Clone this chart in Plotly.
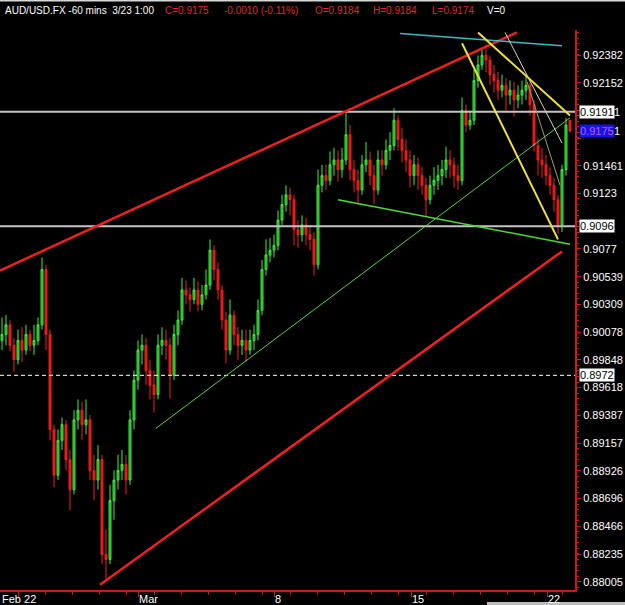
import plotly.graph_objects as go

# ---------------- data (hourly-ish candles, AUD/USD) ----------------
opens = [0.9001,0.9006,0.9014,0.8997,0.8985,0.9001,0.8993,0.9006,0.8997,0.9001,
0.9014,0.9060,0.9006,0.8927,0.8889,0.8918,0.8931,0.8902,0.8877,0.8935,
0.8943,0.8931,0.8935,0.8893,0.8885,0.8902,0.8823,0.8819,0.8868,0.8885,
0.8893,0.8898,0.8885,0.8935,0.8968,0.8993,0.8997,0.8976,0.8964,0.8956,
0.8997,0.9001,0.8997,0.8972,0.9006,0.9018,0.9043,0.9039,0.9035,0.9043,
0.9031,0.9039,0.9047,0.9076,0.9060,0.9043,0.9018,0.8993,0.9022,0.9006,
0.8997,0.9001,0.8993,0.9001,0.9006,0.9026,0.9060,0.9072,0.9076,0.9080,
0.9101,0.9114,0.9122,0.9118,0.9093,0.9089,0.9097,0.9089,0.9085,0.9064,
0.9130,0.9138,0.9134,0.9147,0.9151,0.9143,0.9151,0.9172,0.9143,0.9134,
0.9126,0.9147,0.9151,0.9138,0.9126,0.9151,0.9147,0.9159,0.9163,0.9184,
0.9168,0.9159,0.9151,0.9138,0.9147,0.9138,0.9130,0.9118,0.9130,0.9134,
0.9138,0.9143,0.9151,0.9147,0.9138,0.9134,0.9192,0.9180,0.9184,0.9217,
0.9230,0.9238,0.9234,0.9222,0.9217,0.9209,0.9213,0.9205,0.9209,0.9201,
0.9205,0.9209,0.9213,0.9197,0.9163,0.9151,0.9147,0.9138,0.9130,0.9118,
0.9097,0.9143,0.9184]

highs = [0.9020,0.9022,0.9018,0.9003,0.9010,0.9012,0.9014,0.9010,0.9014,0.9020,
0.9070,0.9064,0.9010,0.8931,0.8927,0.8937,0.8935,0.8910,0.8943,0.8952,
0.8950,0.8952,0.8939,0.8906,0.8914,0.8906,0.8844,0.8881,0.8893,0.8906,
0.8910,0.8906,0.8943,0.8976,0.9001,0.9006,0.9003,0.8985,0.8976,0.9006,
0.9012,0.9010,0.9003,0.9014,0.9026,0.9053,0.9051,0.9045,0.9053,0.9050,
0.9047,0.9060,0.9085,0.9080,0.9066,0.9047,0.9025,0.9035,0.9026,0.9012,
0.9010,0.9010,0.9010,0.9014,0.9035,0.9068,0.9085,0.9086,0.9089,0.9109,
0.9122,0.9130,0.9128,0.9122,0.9101,0.9105,0.9103,0.9097,0.9091,0.9143,
0.9147,0.9147,0.9158,0.9161,0.9159,0.9161,0.9190,0.9180,0.9151,0.9143,
0.9155,0.9166,0.9158,0.9147,0.9159,0.9159,0.9168,0.9174,0.9194,0.9188,
0.9178,0.9168,0.9159,0.9155,0.9153,0.9145,0.9136,0.9138,0.9145,0.9147,
0.9151,0.9162,0.9159,0.9153,0.9147,0.9203,0.9197,0.9192,0.9226,0.9238,
0.9244,0.9247,0.9238,0.9230,0.9224,0.9222,0.9219,0.9217,0.9216,0.9213,
0.9217,0.9222,0.9217,0.9201,0.9169,0.9161,0.9155,0.9145,0.9136,0.9122,
0.9147,0.9186,0.9184]

lows = [0.8993,0.8997,0.8992,0.8975,0.8981,0.8983,0.8989,0.8992,0.8989,0.8997,
0.9010,0.8993,0.8918,0.8879,0.8885,0.8910,0.8893,0.8860,0.8873,0.8927,
0.8918,0.8923,0.8885,0.8868,0.8877,0.8815,0.8802,0.8815,0.8852,0.8877,
0.8885,0.8873,0.8881,0.8927,0.8960,0.8981,0.8964,0.8952,0.8941,0.8952,
0.8989,0.8985,0.8953,0.8968,0.8997,0.9014,0.9031,0.9025,0.9031,0.9025,
0.9026,0.9035,0.9043,0.9051,0.9035,0.9010,0.8982,0.8989,0.8997,0.8985,
0.8989,0.8983,0.8989,0.8993,0.9001,0.9022,0.9055,0.9066,0.9070,0.9076,
0.9097,0.9108,0.9105,0.9080,0.9078,0.9083,0.9080,0.9076,0.9055,0.9060,
0.9124,0.9126,0.9130,0.9138,0.9133,0.9136,0.9147,0.9134,0.9124,0.9114,
0.9122,0.9141,0.9130,0.9114,0.9122,0.9138,0.9143,0.9151,0.9159,0.9159,
0.9149,0.9141,0.9128,0.9130,0.9126,0.9122,0.9104,0.9114,0.9122,0.9126,
0.9130,0.9136,0.9136,0.9128,0.9126,0.9130,0.9174,0.9176,0.9180,0.9211,
0.9226,0.9224,0.9213,0.9207,0.9201,0.9203,0.9192,0.9197,0.9187,0.9194,
0.9197,0.9201,0.9188,0.9158,0.9138,0.9136,0.9130,0.9122,0.9108,0.9090,
0.9091,0.9138,0.9174]

closes = [0.9006,0.9014,0.8997,0.8985,0.9001,0.8993,0.9006,0.8997,0.9001,0.9014,
0.9060,0.9006,0.8927,0.8889,0.8918,0.8931,0.8902,0.8877,0.8935,0.8943,
0.8931,0.8935,0.8893,0.8885,0.8902,0.8823,0.8819,0.8868,0.8885,0.8893,
0.8898,0.8885,0.8935,0.8968,0.8993,0.8997,0.8976,0.8964,0.8956,0.8997,
0.9001,0.8997,0.8972,0.9006,0.9018,0.9043,0.9039,0.9035,0.9043,0.9031,
0.9039,0.9047,0.9076,0.9060,0.9043,0.9018,0.8993,0.9022,0.9006,0.8997,
0.9001,0.8993,0.9001,0.9006,0.9026,0.9060,0.9072,0.9076,0.9080,0.9101,
0.9114,0.9122,0.9118,0.9093,0.9089,0.9097,0.9089,0.9085,0.9064,0.9130,
0.9138,0.9134,0.9147,0.9151,0.9143,0.9151,0.9172,0.9143,0.9134,0.9126,
0.9147,0.9151,0.9138,0.9126,0.9151,0.9147,0.9159,0.9163,0.9184,0.9168,
0.9159,0.9151,0.9138,0.9147,0.9138,0.9130,0.9118,0.9130,0.9134,0.9138,
0.9143,0.9151,0.9147,0.9138,0.9134,0.9192,0.9180,0.9184,0.9217,0.9230,
0.9238,0.9234,0.9222,0.9217,0.9209,0.9213,0.9205,0.9209,0.9201,0.9205,
0.9209,0.9213,0.9197,0.9163,0.9151,0.9147,0.9138,0.9130,0.9118,0.9097,
0.9143,0.9180,0.9175]

bar_index = list(range(len(closes)))

# y-axis ticks (labels hidden under the price boxes are blank)
ytick_vals = [0.88005, 0.88235, 0.88466, 0.88696, 0.88926, 0.89157, 0.89387, 0.89618,
              0.89848, 0.90078, 0.90309, 0.90539, 0.9077, 0.91, 0.9123, 0.91461,
              0.91691, 0.91921, 0.92152, 0.92382]
ytick_text = ["0.88005", "0.88235", "0.88466", "0.88696", "0.88926", "0.89157", "0.89387",
              "0.89618", "0.89848", "0.90078", "0.90309", "0.90539", "0.9077", "",
              "0.9123", "0.91461", "", "", "0.92152", "0.92382"]

# x-axis date ticks (bar index positions)
xtick_pos = [4, 34, 68, 102.25, 136.25]
xtick_text = ["Feb 22", "Mar", "8", "15", "22"]

# trend lines (bar index, price)
red_upper = ([-0.5, 128.75], [0.9059, 0.9257])
red_lower = ([24.5, 140.0], [0.8798, 0.9075])
green_long = ([38.5, 142.0], [0.8928, 0.9186])
green_low = ([84.0, 142.0], [0.9118, 0.9081])
cyan_top = ([99.5, 140.0], [0.9256, 0.9246])
yellow_a = ([115.0, 139.0], [0.9248, 0.9085])
yellow_b = ([119.0, 142.0], [0.9257, 0.9188])
pale_line = ([125.75, 140.0], [0.9257, 0.9165])
olive_line = ([131.25, 139.5], [0.9216, 0.9130])

# horizontal levels
solid_levels = [0.9191, 0.9096]
dashed_levels = [0.8972]
last_price = 0.9175

X_RANGE = [-0.5, 143.25]
Y_RANGE = [0.87936, 0.92590]

header_white = "AUD/USD.FX -60 mins  3/23 1:00"
header_red = [("C=0.9175", 163), ("-0.0010 (-0.11%)", 222), ("O=0.9184", 313),
              ("H=0.9184", 371), ("L=0.9174", 430)]

FONT = "Liberation Sans, Arial, sans-serif"

fig = go.Figure()

for lv in solid_levels:
    fig.add_trace(go.Scatter(x=X_RANGE, y=[lv, lv], mode="lines",
                             line=dict(color="#c4c4c4", width=2),
                             hoverinfo="skip", showlegend=False))
for lv in dashed_levels:
    fig.add_trace(go.Scatter(x=X_RANGE, y=[lv, lv], mode="lines",
                             line=dict(color="#ffffff", width=1, dash="4px,3px"),
                             hoverinfo="skip", showlegend=False))

fig.add_trace(go.Candlestick(
    x=bar_index, open=opens, high=highs, low=lows, close=closes,
    increasing=dict(line=dict(color="#3cf03c", width=1), fillcolor="#2a9a2a"),
    decreasing=dict(line=dict(color="#f02020", width=1), fillcolor="#e01515"),
    whiskerwidth=0, hoverinfo="skip", showlegend=False))

def add_line(pts, color, width):
    fig.add_trace(go.Scatter(x=pts[0], y=pts[1], mode="lines",
                             line=dict(color=color, width=width),
                             hoverinfo="skip", showlegend=False))

add_line(red_upper, "#ee2020", 2.5)
add_line(red_lower, "#ee2020", 2.5)
add_line(green_long, "#5fd040", 1)
add_line(green_low, "#4fd838", 1.5)
add_line(cyan_top, "#40b8c0", 1.5)
add_line(olive_line, "#a0a060", 1)
add_line(pale_line, "#d8d8a8", 1)
add_line(yellow_a, "#f0e040", 2)
add_line(yellow_b, "#f0e040", 2)

annotations = []
annotations.append(dict(text=header_white, xref="paper", yref="paper", x=0, y=1,
                        xanchor="left", yanchor="middle", xshift=3, yshift=20,
                        showarrow=False, font=dict(family=FONT, size=10, color="#ffffff")))
for txt, px in header_red:
    annotations.append(dict(text=txt, xref="paper", yref="paper", x=0, y=1,
                            xanchor="left", yanchor="middle", xshift=px, yshift=20,
                            showarrow=False, font=dict(family=FONT, size=10, color="#e02828")))
annotations.append(dict(text="V=0", xref="paper", yref="paper", x=0, y=1,
                        xanchor="left", yanchor="middle", xshift=485, yshift=20,
                        showarrow=False, font=dict(family=FONT, size=10, color="#ffffff")))

# x-axis labels, left-aligned at their ticks
for pos, txt in zip(xtick_pos, xtick_text):
    if txt.startswith("Feb"):
        annotations.append(dict(text=txt, xref="paper", yref="paper", x=0, y=0,
                                xanchor="left", yanchor="top", xshift=0, yshift=-1,
                                showarrow=False, font=dict(family=FONT, size=11, color="#ffffff")))
    else:
        annotations.append(dict(text=txt, xref="x", yref="paper", x=pos, y=0,
                                xanchor="left", yanchor="top", xshift=-1, yshift=-1,
                                showarrow=False, font=dict(family=FONT, size=11, color="#ffffff")))

# price boxes on the axis, with the trailing digit of the covered tick label
for lv in solid_levels + dashed_levels:
    annotations.append(dict(text=f"{lv:.4f}", xref="paper", yref="y", x=1, y=lv,
                            xanchor="left", yanchor="middle", xshift=4,
                            showarrow=False, bgcolor="#ffffff", borderpad=0,
                            font=dict(family=FONT, size=11, color="#000000")))
annotations.append(dict(text=f"{last_price:.4f}", xref="paper", yref="y", x=1, y=last_price,
                        xanchor="left", yanchor="middle", xshift=4,
                        showarrow=False, bgcolor="#1414e6", borderpad=0,
                        font=dict(family=FONT, size=11, color="#c35cff")))
for lv in [solid_levels[0], last_price]:
    annotations.append(dict(text="1", xref="paper", yref="y", x=1, y=lv,
                            xanchor="left", yanchor="middle", xshift=37,
                            showarrow=False,
                            font=dict(family=FONT, size=11, color="#ffffff")))

shapes = [
    dict(type="rect", xref="paper", yref="paper", x0=0, x1=625 / 575,
         y0=1 + 28.5 / 560, y1=1 + 30 / 560, line=dict(width=0), fillcolor="#d8d8d8"),
    dict(type="rect", xref="paper", yref="paper", x0=487 / 575, x1=625 / 575,
         y0=-15 / 560, y1=-12 / 560, line=dict(width=0), fillcolor="#bdbdbd"),
]

fig.update_layout(
    width=625, height=605,
    margin=dict(l=0, r=50, t=30, b=15),
    paper_bgcolor="#000000", plot_bgcolor="#000000",
    showlegend=False,
    annotations=annotations,
    shapes=shapes,
    xaxis=dict(range=X_RANGE, showgrid=False, zeroline=False,
               rangeslider=dict(visible=False),
               showline=True, linecolor="#d01818", linewidth=2,
               tickmode="array", tickvals=xtick_pos, ticktext=[""] * len(xtick_pos),
               ticks="outside", ticklen=5, tickcolor="#d01818", tickwidth=1,
               minor=dict(ticks="outside", ticklen=3, tickcolor="#d01818",
                          tick0=4, dtick=6.8),
               fixedrange=True),
    yaxis=dict(range=Y_RANGE, side="right", showgrid=False, zeroline=False,
               showline=True, linecolor="#d01818", linewidth=2,
               tickmode="array", tickvals=ytick_vals, ticktext=ytick_text,
               ticks="outside", ticklen=4, tickcolor="#d01818", tickwidth=1,
               minor=dict(ticks="outside", ticklen=2, tickcolor="#d01818",
                          tick0=0.88005, dtick=0.000461),
               tickfont=dict(family=FONT, size=11, color="#ffffff"),
               fixedrange=True),
)

fig.write_html("out.html")
